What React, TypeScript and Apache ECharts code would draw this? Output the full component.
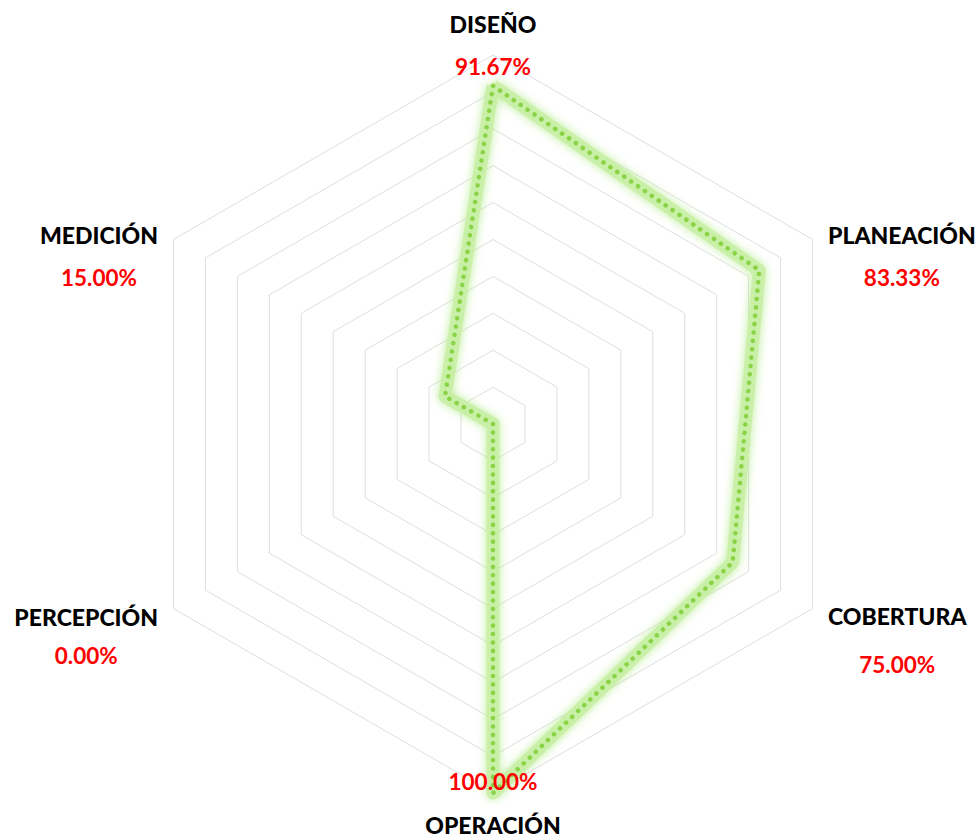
import React, { useEffect, useRef } from "react";
import * as echarts from "echarts";

// Indicators in ECharts order (counter-clockwise starting at top)
const indicatorNames = ["DISEÑO", "MEDICIÓN", "PERCEPCIÓN", "OPERACIÓN", "COBERTURA", "PLANEACIÓN"];
const indicatorMax = [100, 100, 100, 100, 100, 100];
const values = [91.67, 15.0, 0.0, 100.0, 75.0, 83.33];
const valueLabels = ["91.67%", "15.00%", "0.00%", "100.00%", "75.00%", "83.33%"];

export default function App() {
  const ref = useRef<HTMLDivElement>(null);
  useEffect(() => {
    const chart = echarts.init(ref.current!, null, { renderer: "svg" });
    const nameFont = { fontFamily: "Lato", fontWeight: 900 as const, fontSize: 23, color: "#000", align: "center" as const };
    const valFont = { fontFamily: "Lato", fontWeight: "bold" as const, fontSize: 22.5, color: "#ff0000", align: "center" as const };
    const indicator = indicatorNames.map((n, i) => ({ name: n, max: indicatorMax[i], min: 0 }));
    const common = {
      center: [493, 424],
      radius: 369,
      startAngle: 90,
      splitNumber: 10,
      shape: "polygon",
      indicator,
      axisLine: { show: false },
      axisTick: { show: false },
      axisLabel: { show: false },
      splitArea: { show: false },
    };
    chart.setOption({
      animation: false,
      radar: [
        {
          ...common,
          z: 1,
          axisName: { show: false },
          splitLine: { lineStyle: { color: "#dedede", width: 1 } },
        },
        {
          ...common,
          z: 5,
          nameGap: -33,
          splitLine: { show: false },
          axisName: {
            padding: [0, 44, 0, 44],
            formatter: (name: string) => {
              const i = indicatorNames.indexOf(name);
              const v = valueLabels[i];
              if (i === 3) return `{v|${v}}\n{n|${name}}`;
              if (i === 2) return `{sp2| }\n{n2|${name}}\n{v2|${v}}`;
              if (i === 4) return `{sp4| }\n{n4|${name}}\n{v4|${v}}`;
              return `{n|${name}}\n{v|${v}}`;
            },
            rich: {
              n: { ...nameFont, lineHeight: 43 },
              v: { ...valFont, lineHeight: 43 },
              sp2: { fontSize: 10, lineHeight: 88 },
              n2: { ...nameFont, lineHeight: 39 },
              v2: { ...valFont, lineHeight: 39 },
              sp4: { fontSize: 10, lineHeight: 96 },
              n4: { ...nameFont, lineHeight: 48 },
              v4: { ...valFont, lineHeight: 48 },
            },
          },
        },
      ],
      series: [
        {
          type: "radar",
          radarIndex: 0,
          z: 2,
          symbol: "none",
          data: [
            {
              value: values,
              lineStyle: {
                color: "rgba(200,240,165,0.9)",
                width: 13,
                join: "round",
                shadowColor: "rgba(170,232,120,0.85)",
                shadowBlur: 10,
              },
            },
            {
              value: values,
              lineStyle: {
                color: "#8bd346",
                width: 4.5,
                type: [0.1, 8.3],
                cap: "round",
                join: "round",
              },
            },
          ],
        },
      ],
    });
    return () => chart.dispose();
  }, []);
  return (
    <div
      ref={ref}
      style={{ position: "absolute", left: 0, top: 0, width: 979, height: 836, background: "#fff" }}
    />
  );
}
